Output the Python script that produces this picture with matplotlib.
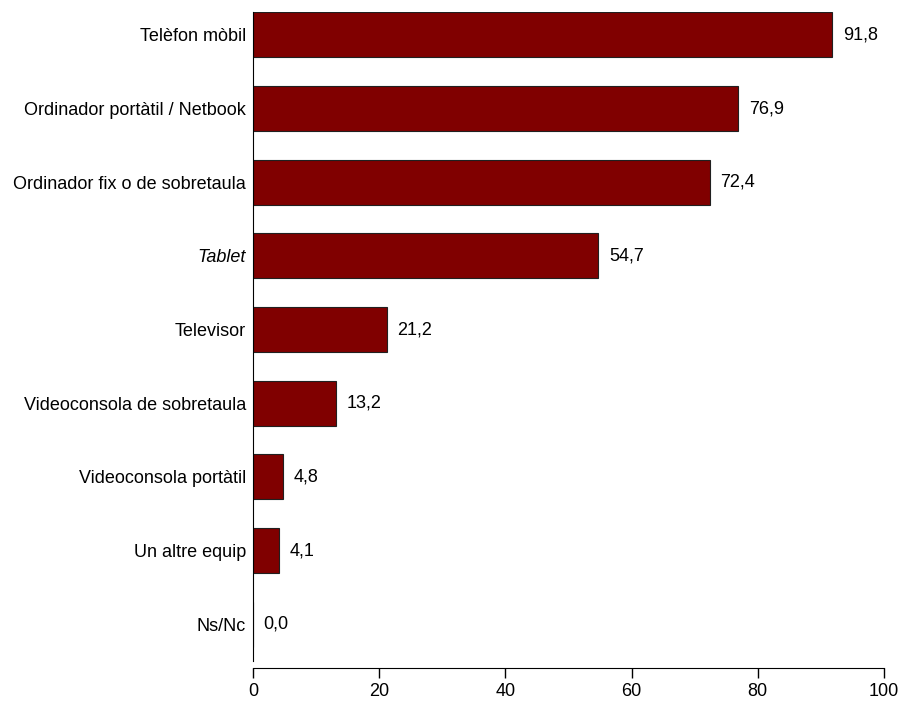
import matplotlib
matplotlib.use("Agg")
import matplotlib.pyplot as plt

categories = ["Telèfon mòbil", "Ordinador portàtil / Netbook", "Ordinador fix o de sobretaula",
              "Tablet", "Televisor", "Videoconsola de sobretaula", "Videoconsola portàtil",
              "Un altre equip", "Ns/Nc"]
values = [91.8, 76.9, 72.4, 54.7, 21.2, 13.2, 4.8, 4.1, 0.0]
xticks = [0, 20, 40, 60, 80, 100]

plt.rcParams['font.family'] = ['Liberation Sans', 'DejaVu Sans']
FS = 13
fig = plt.figure(figsize=(9.01, 7.02), dpi=100)
ax = fig.add_axes([253/901, 1 - 661/702, (884-253)/901, (661-12)/702])

pos = list(range(len(categories)))
ax.barh(pos, values, height=0.61, color='#800000', edgecolor='#202020', linewidth=0.8)
ax.set_ylim(8.5, -0.31)
ax.set_xlim(0, 100)
ax.set_yticks(pos)
ax.set_yticklabels(categories)
ax.tick_params(axis='y', length=0, pad=5, labelsize=FS)
for lab in ax.get_yticklabels():
    if lab.get_text() == "Tablet":
        lab.set_style('italic')
ax.set_xticks(xticks)
ax.set_xticklabels([str(t) for t in xticks])
ax.tick_params(axis='x', length=7, width=1, pad=4, labelsize=FS)
for s in ['top', 'right']:
    ax.spines[s].set_visible(False)
ax.spines['bottom'].set_position(('outward', 5))
for v, p in zip(values, pos):
    ax.text(v + 1.7, p, f"{v:.1f}".replace('.', ','), va='center', ha='left', fontsize=FS)

fig.savefig("out.png", dpi=100)
